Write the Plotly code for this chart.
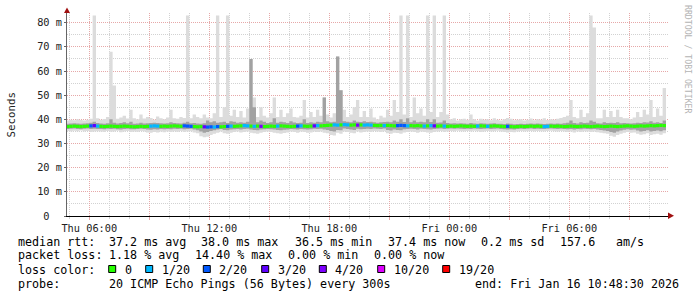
import pandas as pd
import plotly.graph_objects as go

# ---------------- data ----------------
bin_start = "2026-01-15 04:50"
bin_minutes = 10
n_bins = 180

median_ms = [
    37.0, 37.1, 37.2, 37.1, 37.0, 37.1, 37.2, 37.3, 37.4, 37.2,
    37.1, 37.0, 37.1, 37.2, 37.1, 37.0, 37.1, 37.2, 37.1, 37.0,
    36.9, 37.0, 37.1, 37.0, 37.1, 37.2, 37.3, 37.2, 37.1, 37.2,
    37.1, 37.2, 37.3, 37.2, 37.1, 37.3, 37.2, 37.1, 37.0, 36.9,
    37.0, 36.9, 36.8, 36.9, 36.8, 37.0, 36.9, 37.0, 37.1, 37.2,
    37.1, 37.2, 37.3, 37.4, 37.3, 37.2, 37.1, 37.2, 37.1, 37.0,
    37.1, 37.2, 37.1, 37.2, 37.3, 37.2, 37.1, 37.0, 37.1, 37.2,
    37.3, 37.2, 37.1, 37.2, 37.3, 37.4, 37.3, 37.4, 37.5, 37.6,
    37.7, 37.6, 37.7, 37.8, 37.7, 37.6, 37.7, 37.6, 37.7, 37.6,
    37.7, 37.6, 37.5, 37.4, 37.5, 37.4, 37.5, 37.4, 37.3, 37.4,
    37.5, 37.4, 37.3, 37.4, 37.3, 37.4, 37.3, 37.2, 37.3, 37.4,
    37.3, 37.2, 37.3, 37.2, 37.1, 37.2, 37.1, 37.2, 37.3, 37.2,
    37.1, 37.2, 37.1, 37.2, 37.3, 37.2, 37.1, 37.2, 37.3, 37.2,
    37.1, 37.0, 37.1, 37.0, 36.9, 37.0, 37.1, 37.0, 37.1, 37.2,
    37.1, 37.2, 37.1, 37.0, 37.1, 37.2, 37.1, 37.2, 37.1, 37.0,
    37.1, 37.2, 37.1, 37.0, 37.1, 37.2, 37.1, 37.0, 37.1, 37.2,
    37.1, 37.0, 37.1, 37.2, 37.1, 37.0, 37.1, 37.2, 37.3, 37.2,
    37.1, 37.2, 37.3, 37.2, 37.3, 37.4, 37.3, 37.4, 37.5, 37.4,
]

loss_count = [
    0, 0, 0, 0, 0, 0, 0, 2, 3, 1,
    0, 0, 0, 0, 0, 0, 0, 0, 0, 0,
    0, 0, 0, 0, 0, 1, 1, 1, 0, 0,
    0, 0, 0, 0, 0, 2, 2, 2, 0, 0,
    0, 3, 2, 2, 1, 2, 0, 0, 2, 1,
    0, 0, 0, 1, 1, 0, 1, 0, 4, 0,
    0, 0, 0, 1, 0, 0, 0, 0, 0, 2,
    1, 0, 0, 0, 3, 1, 0, 0, 0, 0,
    1, 1, 0, 1, 1, 0, 0, 4, 0, 1,
    1, 1, 0, 0, 0, 1, 0, 0, 0, 2,
    2, 2, 1, 0, 0, 0, 0, 1, 0, 1,
    3, 0, 0, 1, 0, 0, 0, 0, 0, 0,
    0, 0, 0, 1, 0, 0, 1, 0, 0, 0,
    0, 0, 2, 0, 0, 0, 0, 0, 0, 0,
    0, 0, 0, 1, 1, 0, 0, 0, 0, 0,
    0, 0, 0, 0, 0, 0, 0, 0, 0, 0,
    0, 0, 0, 0, 0, 0, 0, 0, 0, 0,
    0, 0, 0, 0, 0, 0, 0, 0, 0, 0,
]

smoke_max = [
    39.5, 39.8, 39.6, 40.0, 39.7, 39.5, 39.8, 40.2, 83.0, 40.5,
    39.8, 40.1, 41.0, 68.0, 54.0, 40.2, 40.8, 41.5, 40.3, 44.0,
    40.5, 40.0, 42.0, 40.3, 41.0, 40.6, 39.8, 41.2, 40.5, 40.0,
    40.8, 44.0, 40.5, 40.2, 41.0, 40.6, 83.0, 40.5, 42.0, 41.0,
    40.5, 42.0, 40.8, 40.5, 42.5, 83.0, 41.0, 45.0, 83.0, 41.5,
    44.0, 41.0, 43.5, 40.8, 44.5, 65.0, 49.0, 41.0, 45.0, 41.5,
    40.8, 42.5, 49.0, 41.0, 44.0, 41.0, 42.5, 44.5, 41.0, 40.8,
    41.5, 48.0, 40.8, 43.0, 41.0, 44.0, 41.5, 49.0, 42.0, 40.8,
    42.5, 66.0, 52.0, 44.0, 41.0, 42.0, 45.0, 48.0, 41.0, 43.5,
    41.0, 44.5, 40.8, 40.0, 41.5, 40.8, 44.0, 41.5, 48.0, 43.0,
    83.0, 42.0, 83.0, 41.0, 49.0, 42.5, 44.5, 41.5, 83.0, 43.0,
    83.0, 41.0, 43.0, 83.0, 42.0, 40.0, 40.5, 39.5, 40.0, 40.2,
    39.8, 42.0, 40.0, 39.5, 40.2, 39.8, 40.0, 39.6, 40.4, 39.8,
    39.5, 40.0, 40.6, 40.2, 39.6, 39.8, 40.0, 39.5, 39.8, 40.3,
    39.6, 40.0, 39.8, 40.5, 39.7, 40.0, 39.8, 40.2, 40.6, 41.0,
    41.5, 48.0, 41.0, 40.5, 44.0, 41.0, 42.5, 83.0, 78.0, 40.5,
    40.5, 44.0, 41.0, 43.5, 41.0, 44.0, 41.0, 40.5, 40.5, 40.0,
    40.8, 43.0, 41.0, 44.0, 42.0, 48.0, 41.0, 44.5, 41.5, 53.0,
]

smoke_min = [
    35.2, 35.0, 35.3, 35.1, 35.4, 35.0, 35.2, 34.8, 35.0, 35.1,
    35.0, 34.8, 35.2, 34.9, 35.0, 35.3, 34.7, 35.0, 35.2, 34.8,
    35.0, 34.9, 35.2, 35.0, 34.6, 34.5, 34.8, 34.6, 35.0, 34.7,
    35.0, 34.8, 35.1, 34.9, 35.2, 34.8, 35.0, 35.1, 34.6, 34.2,
    33.0, 32.6, 32.8, 33.5, 34.0, 34.5, 35.0, 34.2, 34.0, 34.5,
    34.8, 35.0, 34.6, 34.8, 35.0, 34.5, 34.2, 34.0, 34.5, 34.8,
    35.0, 34.8, 34.5, 34.2, 34.0, 34.3, 34.6, 35.0, 34.8, 34.5,
    35.0, 34.8, 34.5, 34.6, 35.0, 34.8, 35.0, 34.5, 34.2, 33.5,
    33.3, 34.5, 34.0, 35.0, 34.8, 34.5, 34.2, 35.0, 34.6, 34.8,
    35.0, 34.8, 35.2, 35.0, 34.8, 35.1, 34.2, 34.0, 34.5, 34.3,
    34.0, 34.6, 34.8, 35.0, 34.8, 34.5, 35.0, 34.8, 34.6, 34.5,
    34.8, 35.0, 35.2, 34.8, 35.0, 35.2, 35.0, 35.3, 35.1, 35.0,
    35.2, 35.0, 35.3, 35.1, 34.8, 35.0, 35.2, 35.0, 35.1, 35.3,
    35.0, 34.8, 34.6, 34.8, 34.7, 35.0, 35.2, 35.0, 35.1, 35.2,
    35.0, 35.2, 35.1, 35.0, 35.2, 35.3, 35.1, 35.0, 35.2, 35.0,
    34.8, 35.0, 34.6, 35.0, 34.8, 35.1, 35.0, 34.8, 35.0, 34.7,
    34.5, 34.2, 34.0, 33.2, 32.8, 33.5, 34.0, 34.5, 34.8, 34.5,
    34.6, 34.0, 33.6, 33.8, 34.2, 33.5, 33.8, 34.0, 33.6, 34.2,
]

smoke_hi = [
    38.2, 38.3, 38.4, 38.3, 38.2, 38.3, 38.4, 38.6, 39.0, 38.5,
    38.3, 38.2, 38.4, 40.0, 38.6, 38.3, 38.5, 38.8, 38.4, 39.0,
    38.2, 38.3, 38.6, 38.3, 38.4, 38.5, 38.6, 38.5, 38.4, 38.3,
    38.4, 38.8, 38.5, 38.4, 38.3, 38.6, 39.0, 38.4, 38.5, 38.3,
    38.2, 38.4, 39.5, 38.8, 39.2, 38.6, 38.8, 39.0, 38.5, 39.2,
    39.0, 38.6, 38.8, 38.6, 39.0, 65.0, 45.0, 38.8, 39.5, 39.0,
    38.5, 38.8, 40.5, 38.6, 39.0, 38.8, 38.5, 39.2, 38.7, 38.5,
    38.6, 40.0, 38.5, 38.8, 38.6, 39.0, 38.8, 49.0, 39.2, 38.8,
    39.0, 66.0, 52.0, 39.2, 39.0, 38.8, 39.5, 39.0, 38.9, 39.2,
    38.9, 39.0, 38.8, 38.6, 38.8, 38.9, 39.0, 38.8, 39.5, 39.0,
    40.0, 38.9, 40.5, 38.8, 39.5, 38.8, 39.0, 38.8, 40.0, 38.9,
    40.0, 38.6, 38.7, 39.5, 38.5, 38.3, 38.4, 38.3, 38.4, 38.3,
    38.2, 38.5, 38.3, 38.2, 38.4, 38.3, 38.2, 38.3, 38.4, 38.2,
    38.2, 38.1, 38.3, 38.2, 38.0, 38.1, 38.2, 38.1, 38.2, 38.3,
    38.2, 38.3, 38.2, 38.1, 38.2, 38.3, 38.2, 38.3, 38.2, 38.4,
    38.6, 39.5, 38.5, 38.3, 38.8, 38.5, 38.6, 39.5, 39.0, 38.4,
    38.3, 38.8, 38.5, 38.6, 38.5, 38.8, 38.4, 38.5, 38.4, 38.3,
    38.4, 38.6, 38.5, 38.8, 38.7, 39.2, 38.6, 38.8, 38.5, 39.5,
]

smoke_lo = [
    36.0, 36.1, 36.2, 36.0, 35.9, 36.1, 36.2, 36.0, 36.1, 36.0,
    36.0, 35.9, 36.1, 36.0, 36.1, 35.9, 35.8, 36.0, 36.1, 35.9,
    35.9, 36.0, 36.1, 36.0, 35.8, 35.7, 35.9, 35.8, 36.0, 35.9,
    36.0, 35.9, 36.1, 36.0, 36.1, 35.9, 36.0, 36.1, 35.8, 35.5,
    35.0, 34.5, 34.8, 35.2, 35.5, 35.8, 36.0, 35.6, 35.5, 35.8,
    35.9, 36.0, 35.8, 36.0, 36.1, 35.8, 35.6, 35.5, 35.8, 35.9,
    36.0, 35.9, 35.8, 35.6, 35.5, 35.7, 35.8, 36.0, 35.9, 35.8,
    36.0, 35.9, 35.8, 35.9, 36.1, 36.0, 36.1, 35.8, 35.6, 35.2,
    35.0, 35.6, 35.5, 36.2, 36.0, 35.8, 35.6, 36.1, 35.9, 36.0,
    36.1, 36.0, 36.2, 36.1, 36.0, 36.2, 35.6, 35.4, 35.8, 35.6,
    35.5, 35.9, 36.0, 36.1, 36.0, 35.8, 36.1, 36.0, 35.9, 35.8,
    36.0, 36.1, 36.2, 36.0, 36.1, 36.2, 36.1, 36.2, 36.1, 36.0,
    36.1, 36.0, 36.2, 36.1, 36.0, 36.1, 36.2, 36.0, 36.1, 36.2,
    36.0, 35.9, 35.8, 35.9, 35.8, 36.0, 36.1, 36.0, 36.1, 36.2,
    36.0, 36.1, 36.0, 36.0, 36.1, 36.2, 36.1, 36.0, 36.1, 36.0,
    35.9, 36.0, 35.8, 36.0, 35.9, 36.1, 36.0, 35.9, 36.0, 35.8,
    35.6, 35.4, 35.2, 34.8, 34.5, 35.0, 35.4, 35.7, 35.9, 35.7,
    35.8, 35.4, 35.0, 35.2, 35.5, 35.0, 35.2, 35.4, 35.1, 35.5,
]

# loss legend (threshold in pings out of 20 -> colour)
loss_thresholds = [0, 1, 2, 3, 4, 10, 19]
loss_labels = ["0", "1/20", "2/20", "3/20", "4/20", "10/20", "19/20"]
loss_colors = ["#26ff00", "#00b8ff", "#0059ff", "#5e00ff", "#7e00ff", "#dd00ff", "#ff0000"]

y_tickvals = [0, 10, 20, 30, 40, 50, 60, 70, 80]
y_ticktext = ["0\u00a0\u00a0", "10 m", "20 m", "30 m", "40 m", "50 m", "60 m", "70 m", "80 m"]

x_tickvals = ["2026-01-15 06:00", "2026-01-15 09:00", "2026-01-15 12:00", "2026-01-15 15:00",
              "2026-01-15 18:00", "2026-01-15 21:00", "2026-01-16 00:00", "2026-01-16 03:00",
              "2026-01-16 06:00", "2026-01-16 09:00"]
x_ticktext = ["Thu 06:00", "", "Thu 12:00", "", "Thu 18:00", "", "Fri 00:00", "", "Fri 06:00", ""]
x_range = ["2026-01-15 04:53:06", "2026-01-16 10:56:06"]

stats_line1 = ["median rtt:", "37.2 ms avg", "38.0 ms max", "36.5 ms min", "37.4 ms now",
               "0.2 ms sd", "157.6", "am/s"]
stats_line2 = ["packet loss:", "1.18 % avg", "14.40 % max", "0.00 % min", "0.00 % now"]
probe_left = ["probe:", "20 ICMP Echo Pings (56 Bytes) every 300s"]
probe_right = "end: Fri Jan 16 10:48:30 2026"

# ---------------- layout helpers (pixel geometry) ----------------
W, H = 697, 297
PL, PR, PT, PB = 67, 668, 13, 216
MONO = "DejaVu Sans Mono"


def px(x):
    return (x - PL) / (PR - PL)


def py(y):
    return (PB - y) / (PB - PT)


def loss_color(n):
    c = loss_colors[0]
    for t, col in zip(loss_thresholds, loss_colors):
        if n >= t:
            c = col
    return c


starts = pd.date_range(bin_start, periods=n_bins, freq=f"{bin_minutes}min")
step = pd.Timedelta(minutes=bin_minutes)
x_step = list(starts) + [starts[-1] + step]

fig = go.Figure()

# outer (light) smoke
fig.add_trace(go.Scatter(x=x_step, y=smoke_min + [smoke_min[-1]], mode="lines",
                         line=dict(width=0, shape="hv"), hoverinfo="skip", showlegend=False))
fig.add_trace(go.Scatter(x=x_step, y=smoke_max + [smoke_max[-1]], mode="lines",
                         line=dict(width=0, shape="hv"), fill="tonexty",
                         fillcolor="#dcdcdc", hoverinfo="skip", showlegend=False))
# inner (darker) smoke
fig.add_trace(go.Scatter(x=x_step, y=smoke_lo + [smoke_lo[-1]], mode="lines",
                         line=dict(width=0, shape="hv"), hoverinfo="skip", showlegend=False))
fig.add_trace(go.Scatter(x=x_step, y=smoke_hi + [smoke_hi[-1]], mode="lines",
                         line=dict(width=0, shape="hv"), fill="tonexty",
                         fillcolor="#a2a2a2", hoverinfo="skip", showlegend=False))

# median coloured by packet loss: one line trace per colour, a segment per sample
bin_colors = [loss_color(n) for n in loss_count]
for col in loss_colors:
    xs, ys = [], []
    for i in range(n_bins):
        if bin_colors[i] == col:
            xs += [starts[i], starts[i] + step, None]
            ys += [median_ms[i], median_ms[i], None]
    if xs:
        fig.add_trace(go.Scatter(x=xs, y=ys, mode="lines", connectgaps=False,
                                 line=dict(color=col, width=3.2), hoverinfo="skip",
                                 showlegend=False))

annotations = []
shapes = []

# axis titles / watermark
annotations.append(dict(text="Seconds", x=px(11), y=py(114.5), xref="paper", yref="paper",
                        textangle=-90, showarrow=False, xanchor="center", yanchor="middle",
                        font=dict(family=MONO, size=10.8, color="#222")))
annotations.append(dict(text="RRDTOOL / TOBI OETIKER", x=px(688), y=py(59), xref="paper",
                        yref="paper", textangle=90, showarrow=False, xanchor="center",
                        yanchor="middle", font=dict(family=MONO, size=8.2, color="#b4b4b4")))

# statistics text
fs = 11.7
line_y = [241.5, 255.5, 269.5, 283.5]
line1_x = [16, 107.3, 199, 293.3, 386.3, 479.3, 558, 613.7]
line2_x = [16, 107.3, 192.7, 286, 372]
for t, xx in zip(stats_line1, line1_x):
    annotations.append(dict(text=t, x=px(xx), y=py(line_y[0]), xref="paper", yref="paper",
                            showarrow=False, xanchor="left", yanchor="middle",
                            font=dict(family=MONO, size=fs, color="#000")))
for t, xx in zip(stats_line2, line2_x):
    annotations.append(dict(text=t, x=px(xx), y=py(line_y[1]), xref="paper", yref="paper",
                            showarrow=False, xanchor="left", yanchor="middle",
                            font=dict(family=MONO, size=fs, color="#000")))
annotations.append(dict(text="loss color:", x=px(16), y=py(line_y[2]), xref="paper",
                        yref="paper", showarrow=False, xanchor="left", yanchor="middle",
                        font=dict(family=MONO, size=fs, color="#000")))
sq_x = [108.7, 145.7, 203.3, 261.7, 319.3, 377.7, 442.7]
for lab, col, xx in zip(loss_labels, loss_colors, sq_x):
    shapes.append(dict(type="rect", xref="paper", yref="paper", x0=px(xx), x1=px(xx + 7),
                       y0=py(272.5), y1=py(265.5), fillcolor=col,
                       line=dict(color="#000", width=1)))
    annotations.append(dict(text=lab, x=px(xx + 14), y=py(line_y[2]), xref="paper",
                            yref="paper", showarrow=False, xanchor="left", yanchor="middle",
                            font=dict(family=MONO, size=fs, color="#000")))
for t, xx in zip(probe_left, [16, 107.3]):
    annotations.append(dict(text=t, x=px(xx), y=py(line_y[3]), xref="paper", yref="paper",
                            showarrow=False, xanchor="left", yanchor="middle",
                            font=dict(family=MONO, size=fs, color="#000")))
annotations.append(dict(text=probe_right, x=px(681), y=py(line_y[3]), xref="paper",
                        yref="paper", showarrow=False, xanchor="right", yanchor="middle",
                        font=dict(family=MONO, size=fs, color="#000")))

# axis arrows
arrow_col = "#a01010"
shapes.append(dict(type="path", xref="paper", yref="paper",
                   path=f"M {px(64)},{py(13)} L {px(70)},{py(13)} L {px(67)},{py(7.5)} Z",
                   fillcolor=arrow_col, line=dict(width=0)))
shapes.append(dict(type="path", xref="paper", yref="paper",
                   path=f"M {px(668)},{py(212.5)} L {px(668)},{py(219)} L {px(674)},{py(215.7)} Z",
                   fillcolor=arrow_col, line=dict(width=0)))

fig.update_layout(
    width=W, height=H,
    margin=dict(l=PL, r=W - PR, t=PT, b=H - PB, pad=0),
    paper_bgcolor="white", plot_bgcolor="white",
    showlegend=False,
    annotations=annotations,
    shapes=shapes,
    font=dict(family=MONO, color="#222"),
)
fig.update_xaxes(
    type="date", range=x_range, tickmode="array", tickvals=x_tickvals, ticktext=x_ticktext,
    showgrid=True, gridcolor="#e6a8a8", griddash="1px,1px", gridwidth=1,
    showline=True, linecolor="#000", linewidth=1,
    ticks="outside", ticklen=3, tickcolor="#e6a8a8",
    tickfont=dict(family=MONO, size=10.3, color="#222"),
    zeroline=False, fixedrange=True,
    minor=dict(dtick=3600000, tick0="2026-01-15 00:00", showgrid=True, gridcolor="#d2d2d2",
               griddash="1px,1px", ticks="outside", ticklen=2, tickcolor="#d2d2d2"),
)
fig.update_yaxes(
    range=[0, 84], tickmode="array", tickvals=y_tickvals, ticktext=y_ticktext,
    showgrid=True, gridcolor="#e6a8a8", griddash="1px,1px", gridwidth=1,
    showline=True, linecolor="#666", linewidth=1,
    ticks="outside", ticklen=2, tickcolor="#666",
    tickfont=dict(family=MONO, size=10.3, color="#222"),
    zeroline=False, fixedrange=True,
    minor=dict(dtick=5, tick0=0, showgrid=True, gridcolor="#d2d2d2", griddash="1px,1px"),
)

fig.write_html("out.html")
